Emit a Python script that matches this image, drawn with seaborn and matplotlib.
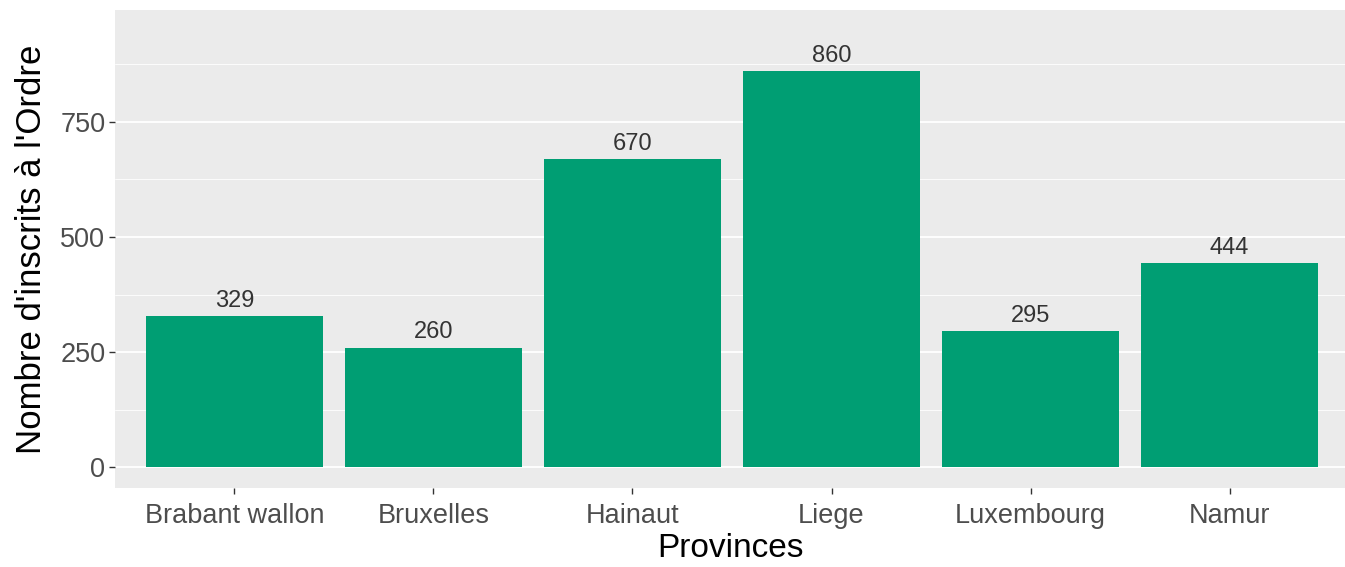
import matplotlib
matplotlib.use("Agg")
import matplotlib.pyplot as plt
import seaborn as sns
import pandas as pd

provinces = ["Brabant wallon", "Bruxelles", "Hainaut", "Liege", "Luxembourg", "Namur"]
inscrits = [329, 260, 670, 860, 295, 444]
yticks = [0, 250, 500, 750]
minor_ticks = [125, 375, 625, 875]

df = pd.DataFrame({"Provinces": provinces, "inscrits": inscrits})

sns.set_theme(style="darkgrid")
plt.rcParams["font.family"] = ["Liberation Sans", "DejaVu Sans"]

fig = plt.figure(figsize=(13.45, 5.67), dpi=100)
ax = fig.add_axes([115 / 1345, 79 / 567, 1230 / 1345, 478 / 567])
ax.set_facecolor("#EBEBEB")

sns.barplot(data=df, x="Provinces", y="inscrits", color="#009E73",
            saturation=1, width=0.89, linewidth=0, ax=ax)

# value labels above bars
for i, v in enumerate(inscrits):
    ax.annotate(str(v), (i, v), xytext=(0, 3), textcoords="offset points",
                ha="center", va="bottom", fontsize=17, color="#333333")

ax.set_xlim(-0.6, 5.58)
ax.set_ylim(-45, 993)
ax.set_yticks(yticks)
ax.set_yticks(minor_ticks, minor=True)
ax.grid(which="major", color="white", linewidth=1.3)
ax.grid(which="minor", color="white", linewidth=0.6)
ax.grid(axis="x", which="both", visible=False)
ax.set_axisbelow(True)
for s in ax.spines.values():
    s.set_visible(False)

ax.tick_params(axis="both", which="major", length=4, width=1, color="#333333",
               labelsize=19.5, labelcolor="#4D4D4D", pad=3, bottom=True, left=True)
ax.tick_params(axis="x", which="major", pad=7)
ax.tick_params(axis="both", which="minor", length=0)

ax.set_xlabel("Provinces", fontsize=24, color="black", labelpad=3)
ax.set_ylabel("Nombre d'inscrits à l'Ordre", fontsize=25, color="black", labelpad=9)

fig.savefig("out.png", dpi=100)
